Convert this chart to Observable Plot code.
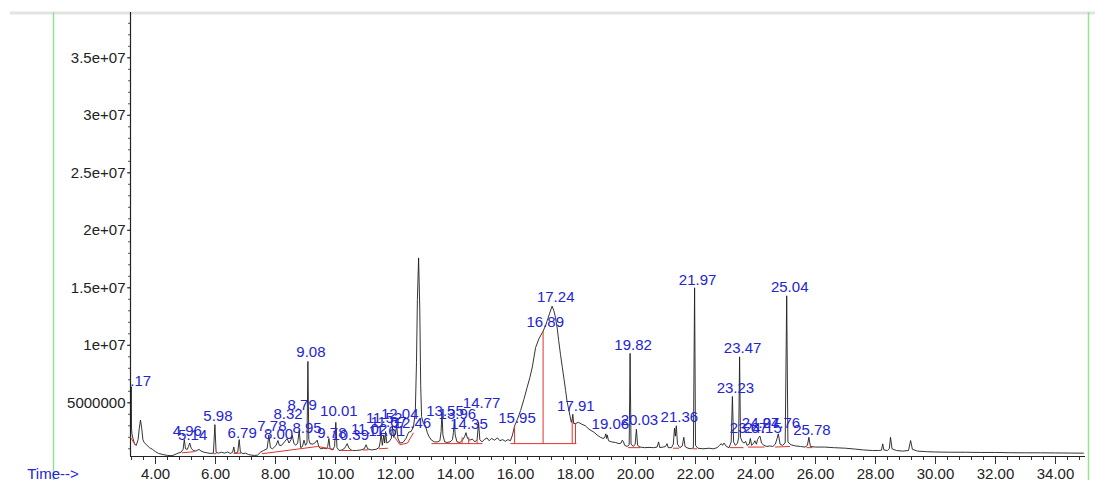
<!DOCTYPE html>
<html><head><meta charset="utf-8">
<script src="https://cdn.jsdelivr.net/npm/d3@7"></script>
<script src="https://cdn.jsdelivr.net/npm/@observablehq/plot@0.6"></script>
<style>
html,body{margin:0;padding:0;background:#fff;}
#chart{position:relative;width:1095px;height:480px;overflow:hidden;}
</style></head><body><div id="chart"></div>
<script>
// Total ion chromatogram: [retention time (min), abundance (millions)]
const trace = [[3.167,1.9],[3.19,6.4],[3.2,2.8],[3.215,2.3],[3.25,1.9],[3.3,1.45],[3.36,1.3],[3.42,1.8],[3.46,2.8],[3.5,3.5],[3.54,2.8],[3.58,1.8],[3.62,1.55],[3.7,1.35],[3.8,1.1],[3.9,0.95],[4.0,0.75],[4.1,0.6],[4.25,0.5],[4.4,0.42],[4.55,0.4],[4.65,0.5],[4.75,0.62],[4.85,0.7],[4.92,0.95],[4.96,1.8],[5.0,1.0],[5.06,0.95],[5.1,1.2],[5.14,1.5],[5.19,1.05],[5.26,0.85],[5.35,0.8],[5.45,0.95],[5.52,0.8],[5.62,0.7],[5.72,0.65],[5.82,0.6],[5.93,0.62],[5.98,3.1],[6.02,0.7],[6.1,0.62],[6.2,0.7],[6.3,0.62],[6.4,0.72],[6.5,0.6],[6.57,0.7],[6.61,1.15],[6.65,0.6],[6.74,0.7],[6.79,1.8],[6.83,0.7],[6.92,0.58],[7.0,0.62],[7.1,0.5],[7.2,0.45],[7.3,0.42],[7.4,0.45],[7.5,0.7],[7.6,0.85],[7.72,1.0],[7.78,2.2],[7.83,1.1],[7.9,1.0],[7.96,1.15],[8.02,1.3],[8.08,1.72],[8.13,1.3],[8.2,1.3],[8.3,1.6],[8.39,1.9],[8.45,1.5],[8.52,1.8],[8.56,2.16],[8.61,1.5],[8.67,1.3],[8.74,1.5],[8.79,2.6],[8.84,1.1],[8.9,1.2],[8.95,1.75],[9.0,1.3],[9.05,1.5],[9.08,8.6],[9.11,1.8],[9.15,1.45],[9.25,1.4],[9.35,1.6],[9.39,1.75],[9.44,1.2],[9.5,1.0],[9.6,1.05],[9.7,1.0],[9.74,1.2],[9.78,1.9],[9.82,1.0],[9.9,0.9],[9.97,1.2],[10.01,3.3],[10.05,1.1],[10.12,0.85],[10.22,0.9],[10.32,1.1],[10.39,1.45],[10.45,1.05],[10.55,0.85],[10.7,0.85],[10.85,0.9],[10.96,1.0],[11.02,1.35],[11.07,1.0],[11.2,0.9],[11.35,0.95],[11.45,1.1],[11.49,1.6],[11.52,2.4],[11.56,1.3],[11.61,2.2],[11.64,1.5],[11.67,2.5],[11.71,1.5],[11.78,1.6],[11.86,1.9],[11.9,2.9],[11.94,2.0],[12.0,2.3],[12.04,3.1],[12.08,1.9],[12.15,1.5],[12.25,1.55],[12.35,1.9],[12.44,2.45],[12.52,2.5],[12.6,2.9],[12.66,4.2],[12.7,8.5],[12.73,14.0],[12.77,17.6],[12.81,13.0],[12.84,6.5],[12.87,3.8],[12.93,3.2],[13.0,3.0],[13.06,2.4],[13.11,2.1],[13.2,1.75],[13.3,1.6],[13.4,1.6],[13.48,1.7],[13.52,2.5],[13.55,4.2],[13.58,2.2],[13.64,1.6],[13.72,1.55],[13.82,1.6],[13.9,1.8],[13.93,2.4],[13.96,3.4],[13.99,2.2],[14.05,1.6],[14.15,1.55],[14.25,1.8],[14.31,2.1],[14.35,2.4],[14.4,1.9],[14.48,1.75],[14.56,1.85],[14.65,1.6],[14.72,1.8],[14.77,3.3],[14.81,1.8],[14.88,1.6],[14.96,1.8],[15.05,1.95],[15.12,1.7],[15.2,1.9],[15.3,1.75],[15.4,1.95],[15.48,1.7],[15.57,1.8],[15.66,1.65],[15.75,1.8],[15.83,1.7],[15.9,2.2],[15.97,3.0],[16.07,3.6],[16.17,4.33],[16.28,5.3],[16.39,6.36],[16.48,7.2],[16.56,8.1],[16.67,9.8],[16.78,10.56],[16.92,11.23],[17.0,11.7],[17.06,12.16],[17.14,12.8],[17.22,13.4],[17.28,13.0],[17.33,12.45],[17.39,11.5],[17.44,10.4],[17.5,9.2],[17.56,8.1],[17.62,7.0],[17.67,6.07],[17.72,5.1],[17.78,4.33],[17.86,3.3],[17.89,3.6],[17.91,4.0],[17.94,3.2],[18.0,3.2],[18.1,3.3],[18.2,3.15],[18.33,3.0],[18.45,2.7],[18.61,2.45],[18.72,2.2],[18.83,2.0],[18.92,1.9],[18.97,1.95],[19.01,2.3],[19.04,1.9],[19.06,2.2],[19.1,1.7],[19.2,1.6],[19.33,1.55],[19.45,1.45],[19.52,1.5],[19.56,1.75],[19.6,1.6],[19.64,1.3],[19.72,1.2],[19.79,1.35],[19.82,9.3],[19.85,1.4],[19.93,1.2],[19.99,1.4],[20.03,2.7],[20.07,1.3],[20.15,1.15],[20.3,1.1],[20.45,1.12],[20.6,1.1],[20.72,1.15],[20.77,1.6],[20.81,1.1],[20.92,1.15],[21.0,1.2],[21.05,1.45],[21.09,1.1],[21.2,1.1],[21.26,1.4],[21.3,2.8],[21.33,2.1],[21.36,3.0],[21.4,1.4],[21.48,1.1],[21.56,1.25],[21.61,2.0],[21.65,1.2],[21.75,1.05],[21.86,1.0],[21.93,1.1],[21.97,15.0],[22.0,1.3],[22.08,1.05],[22.25,1.0],[22.45,1.05],[22.6,1.0],[22.72,1.1],[22.8,1.3],[22.86,1.45],[22.9,1.3],[22.95,1.5],[23.03,1.2],[23.12,1.1],[23.19,1.6],[23.23,5.55],[23.27,1.6],[23.33,1.3],[23.4,1.5],[23.44,2.0],[23.47,9.0],[23.5,2.0],[23.56,1.6],[23.62,1.5],[23.67,1.65],[23.72,1.3],[23.79,1.4],[23.83,1.9],[23.87,1.3],[23.94,1.5],[23.98,1.7],[24.03,1.4],[24.07,1.8],[24.11,2.0],[24.15,2.1],[24.2,1.5],[24.28,1.3],[24.38,1.2],[24.48,1.25],[24.58,1.2],[24.66,1.4],[24.72,1.9],[24.76,2.3],[24.82,1.4],[24.9,1.3],[24.99,1.5],[25.04,14.3],[25.08,1.6],[25.18,1.35],[25.33,1.25],[25.5,1.2],[25.65,1.15],[25.73,1.3],[25.78,2.0],[25.83,1.2],[26.0,1.15],[26.3,1.15],[26.6,1.1],[27.0,1.05],[27.3,0.98],[27.6,0.9],[27.9,0.85],[28.1,0.85],[28.2,0.88],[28.24,1.43],[28.28,0.9],[28.4,0.85],[28.46,1.0],[28.5,2.0],[28.55,1.0],[28.7,0.85],[28.9,0.8],[29.1,0.85],[29.17,1.72],[29.23,0.95],[29.4,0.8],[29.7,0.75],[30.0,0.72],[30.5,0.7],[31.0,0.7],[31.5,0.68],[32.0,0.68],[32.5,0.66],[33.0,0.65],[33.5,0.65],[34.0,0.64],[34.5,0.63],[34.93,0.62]];

// Integration baselines: [t1, abundance1 (M), t2, abundance2 (M)]
const baselines = [[3.17,2.0,3.33,1.3],[4.88,0.65,5.3,0.75],[5.93,0.55,6.03,0.6],[6.6,0.6,6.85,0.62],[7.55,0.57,9.4,1.2],[9.4,1.2,9.95,0.95],[10.2,0.85,10.6,0.85],[10.9,0.9,11.1,0.9],[11.45,1.0,11.75,1.05],[11.95,2.1,12.15,1.35],[12.15,1.35,12.4,1.5],[12.4,1.5,12.6,2.4],[13.2,1.45,14.9,1.45],[15.83,1.45,18.03,1.45],[19.75,1.1,20.15,1.1],[21.25,1.05,21.45,1.05],[21.9,1.0,22.05,1.0],[23.15,1.1,23.6,1.1],[23.75,1.15,24.3,1.15],[24.65,1.15,25.15,1.2],[25.7,1.1,25.9,1.1]];
// Peak drop lines: [t, from (M), to (M)]
const dropLines = [[14.22,1.45,2.0],[14.44,1.45,2.0],[14.72,1.45,1.8],[15.97,1.45,3.0],[16.92,1.45,11.23],[17.89,1.45,3.6],[18.0,1.45,3.2]];

// Peak labels and the level (M) where each label sits
const peakLabels = ["3.17","4.96","5.14","5.98","6.79","7.78","8.00","8.32","8.79","8.95","9.08","9.78","10.01","10.39","11.02","11.52","11.61","11.67","12.04","12.46","13.55","13.96","14.35","14.77","15.95","16.89","17.24","17.91","19.06","19.82","20.03","21.36","21.97","23.23","23.47","23.67","24.07","24.15","24.76","25.04","25.78"];
const peakTimes  = [3.17,4.96,5.14,5.98,6.79,7.78,8.00,8.32,8.79,8.95,9.08,9.78,10.01,10.39,11.02,11.52,11.61,11.67,12.04,12.46,13.55,13.96,14.35,14.77,15.95,16.89,17.24,17.91,19.06,19.82,20.03,21.36,21.97,23.23,23.47,23.67,24.07,24.15,24.76,25.04,25.78];
const labelLevels = [6.85,2.5,2.2,3.8,2.35,3.0,2.3,4.0,4.8,2.8,9.4,2.4,4.25,2.15,2.7,3.7,2.5,3.3,4.0,3.2,4.25,4.0,3.1,4.95,3.7,12.0,14.2,4.7,3.1,10.0,3.45,3.75,15.7,6.3,9.75,2.75,3.2,2.75,3.2,15.05,2.6];

const xMajorTicks = [4,6,8,10,12,14,16,18,20,22,24,26,28,30,32,34];
const xMajorLabels = ["4.00","6.00","8.00","10.00","12.00","14.00","16.00","18.00","20.00","22.00","24.00","26.00","28.00","30.00","32.00","34.00"];
const yTicks = [5e6,1e7,1.5e7,2e7,2.5e7,3e7,3.5e7];
const yTickLabels = ["5000000","1e+07","1.5e+07","2e+07","2.5e+07","3e+07","3.5e+07"];

const xDomain = [3.1667, 35.0];
const yDomain = [0.33e6, 38.94e6];

const M = 1e6;
const traceData = trace.map(([t, v]) => ({t, v: v * M}));
const baseData = baselines.map(([t1, v1, t2, v2]) => ({t1, v1: v1 * M, t2, v2: v2 * M}));
const dropData = dropLines.map(([t, a, b]) => ({t1: t, v1: a * M, t2: t, v2: b * M}));
const labelData = peakLabels.map((s, i) => ({t: peakTimes[i], v: labelLevels[i] * M, s}));
const xMinor = d3.range(3.2, 35.0, 0.4);
const yMinor = d3.range(1e6, 38.5e6, 1e6);

const blue = "#2424d2";
const red = "#e0342c";
const font = "'Liberation Sans', Arial, sans-serif";

const plot = Plot.plot({
  width: 1095,
  height: 480,
  marginTop: 12,
  marginBottom: 24,
  marginLeft: 130,
  marginRight: 10,
  style: {fontFamily: font, fontSize: "15px", color: "#222", background: "transparent"},
  x: {domain: xDomain, axis: null},
  y: {domain: yDomain, axis: null},
  marks: [
    Plot.axisX({ticks: xMinor, tickSize: 4, tickFormat: () => "", stroke: "#333"}),
    Plot.axisX({ticks: xMajorTicks, tickSize: 8, tickPadding: 3.5, stroke: "#333",
      tickFormat: (d) => xMajorLabels[xMajorTicks.indexOf(d)], fontSize: 15, fill: "#222"}),
    Plot.axisY({ticks: yMinor, tickSize: 2, tickFormat: () => "", stroke: "#555"}),
    Plot.axisY({ticks: yTicks, tickSize: 3, tickPadding: 2, stroke: "#333",
      tickFormat: (d) => yTickLabels[yTicks.indexOf(d)], fontSize: 15, fill: "#222"}),
    Plot.ruleX([xDomain[0]], {stroke: "#222", strokeWidth: 1.2}),
    Plot.ruleY([yDomain[0]], {stroke: "#222", strokeWidth: 1.2}),
    Plot.line(traceData, {x: "t", y: "v", stroke: "#1e1e1e", strokeWidth: 0.9}),
    Plot.link(baseData, {x1: "t1", y1: "v1", x2: "t2", y2: "v2", stroke: red, strokeWidth: 1}),
    Plot.link(dropData, {x1: "t1", y1: "v1", x2: "t2", y2: "v2", stroke: red, strokeWidth: 1}),
    Plot.text(labelData.slice(1), {x: "t", y: "v", text: "s", fill: blue, fontSize: 15, dx: 3, clip: true, textAnchor: "middle"}),
    // first label sits against the axis and is cut by it, as in the printout
    Plot.text(labelData.slice(0, 1), {x: "t", y: "v", text: "s", fill: blue, fontSize: 15, dx: 6, clip: true, textAnchor: "middle"})
  ]
});

document.getElementById("chart").appendChild(plot);

// page decorations of the instrument printout
const svg = d3.select(plot);
svg.insert("line", ":first-child").attr("x1", 10).attr("x2", 1095).attr("y1", 13).attr("y2", 13)
  .attr("stroke", "#e3e3e3").attr("stroke-width", 3);
svg.append("line").attr("x1", 53.5).attr("x2", 53.5).attr("y1", 12).attr("y2", 480)
  .attr("stroke", "#94e394").attr("stroke-width", 1.5);
svg.append("line").attr("x1", 1088.5).attr("x2", 1088.5).attr("y1", 12).attr("y2", 480)
  .attr("stroke", "#94e394").attr("stroke-width", 1.5);
svg.append("text").attr("x", 53).attr("y", 478.5).attr("fill", blue)
  .attr("font-size", 15).attr("font-family", font).text("Time-->");
</script>
</body></html>
